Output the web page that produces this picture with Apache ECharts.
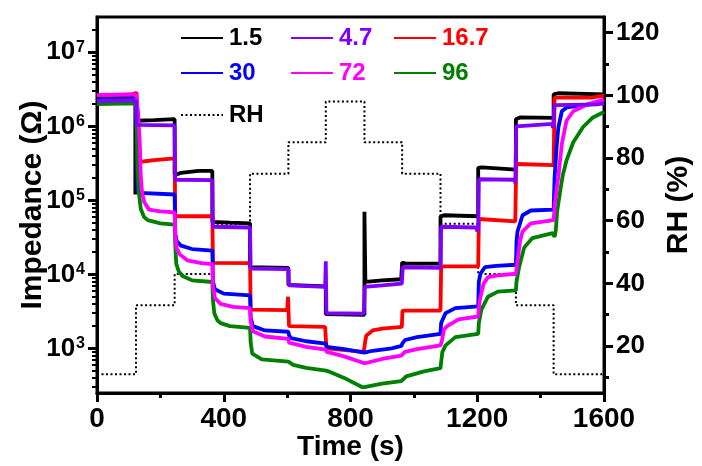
<!DOCTYPE html>
<html><head><meta charset="utf-8">
<script src="https://cdn.jsdelivr.net/npm/echarts@6/dist/echarts.min.js"></script>
<style>html,body{margin:0;padding:0;background:#fff}#c{width:702px;height:466px}</style>
</head><body><div id="c"></div>
<script>
const FONT = "'Liberation Sans', Arial, sans-serif";

// axis ticks / labels
const xTicks = [0, 400, 800, 1200, 1600];
const rhTicks = [20, 40, 60, 80, 100, 120];
const zTicks = [1e3, 1e4, 1e5, 1e6, 1e7];

// series names (frequency) and colours
const seriesNames = ['1.5', '4.7', '16.7', '30', '72', '96'];
const seriesColors = ['#000000', '#8000ff', '#ff0000', '#0000ff', '#ff00ff', '#008000'];

// relative humidity programme (step changes)
const rhTimes = [0, 123, 245, 364, 483, 604, 722, 844, 963, 1084, 1203, 1322, 1441, 1600];
const rhValues = [11, 33, 43, 59, 75, 85, 98, 85, 75, 59, 43, 33, 11, 11];

// impedance traces [time (s), impedance (ohm)]
const z1_5 = [[0,2.4e6],[121,2.45e6],[121,1.2e5],[124,1.2e5],[124,1.19e6],[180,1.21e6],[245,1.25e6],
  [245,2.2e5],[265,2.35e5],[320,2.5e5],[364,2.5e5],
  [364,5.1e4],[420,5.0e4],[483,4.9e4],
  [483,1.25e4],[604,1.22e4],
  [604,7.2e3],[722,6.9e3],
  [722,2.9e3],[844,2.85e3],
  [844,7.0e4],[847,7.9e3],[900,8.3e3],[960,8.6e3],
  [963,1.45e4],[975,1.4e4],[1084,1.4e4],
  [1084,6.0e4],[1095,6.3e4],[1203,6.1e4],
  [1203,2.75e5],[1215,2.8e5],[1322,2.6e5],
  [1322,1.25e6],[1335,1.32e6],[1441,1.3e6],
  [1441,2.7e6],[1455,2.8e6],[1600,2.7e6]];
const z4_7 = [[0,2.2e6],[123,2.25e6],[126,1.05e6],[245,1.03e6],
  [247,1.9e5],[364,1.88e5],
  [366,4.4e4],[483,4.3e4],
  [485,1.2e4],[604,1.18e4],
  [606,7.1e3],[720,6.8e3],[722,1.5e4],[724,3.0e3],[842,2.95e3],
  [845,6.8e3],[900,7.1e3],[962,7.5e3],
  [965,1.25e4],[1084,1.23e4],
  [1086,4.4e4],[1198,4.3e4],[1200,3.8e4],[1203,4.2e4],
  [1205,1.93e5],[1318,1.9e5],[1320,1.7e5],[1323,1.0e6],[1437,1.08e6],[1439,9.5e5],[1441,1.0e6],
  [1444,1.94e6],[1580,1.98e6],[1600,2.05e6]];
const z16_7 = [[0,2.6e6],[110,2.7e6],[125,2.85e6],[130,2.7e6],[133,3.3e5],[180,3.5e5],[245,3.7e5],
  [247,6.1e4],[364,6.1e4],
  [366,1.43e4],[483,1.42e4],
  [485,3.35e3],[600,3.3e3],[603,5.0e3],[606,2.0e3],[720,1.95e3],
  [724,1.0e3],[842,0.9e3],
  [846,1.22e3],[850,1.5e3],[870,1.75e3],[900,1.85e3],[962,1.95e3],
  [964,3.25e3],[1084,3.25e3],
  [1086,1.28e4],[1203,1.28e4],
  [1205,5.6e4],[1320,5.2e4],
  [1323,3.1e5],[1441,3.0e5],
  [1444,2.45e6],[1560,2.45e6],[1600,2.6e6]];
const z30 = [[0,2.3e6],[123,2.35e6],[128,1.3e5],[135,1.26e5],[245,1.2e5],
  [247,3.5e4],[252,2.8e4],[265,2.45e4],[300,2.2e4],[364,2.1e4],
  [366,8e3],[372,6.3e3],[400,5.5e3],[483,5.2e3],
  [485,2.6e3],[492,2.0e3],[530,1.75e3],[604,1.68e3],
  [606,1.5e3],[612,1.38e3],[660,1.25e3],[722,1.16e3],
  [725,1.05e3],[780,0.98e3],[844,0.88e3],
  [870,0.93e3],[930,1.0e3],[961,1.08e3],
  [963,1.15e3],[972,1.3e3],[1010,1.42e3],[1084,1.57e3],
  [1086,2.2e3],[1100,3.0e3],[1131,3.5e3],[1203,3.7e3],
  [1205,8e3],[1210,1.02e4],[1224,1.25e4],[1260,1.3e4],[1322,1.35e4],
  [1324,2.8e4],[1327,3.8e4],[1343,6.3e4],[1369,7.3e4],[1441,7.5e4],
  [1444,2e5],[1450,5e5],[1456,9.7e5],[1467,1.6e6],[1482,1.8e6],[1600,2.1e6]];
const z72 = [[0,2.65e6],[123,2.7e6],[130,1.5e6],[135,6e5],[138,2.2e5],[142,1.3e5],[149,9.5e4],[164,7.5e4],[200,7.1e4],[245,6.9e4],
  [247,3.5e4],[252,2.2e4],[262,1.85e4],[285,1.55e4],[330,1.42e4],[364,1.38e4],
  [366,7e3],[372,4.8e3],[390,4.0e3],[430,3.65e3],[483,3.5e3],
  [485,2.3e3],[492,1.7e3],[530,1.45e3],[604,1.35e3],
  [606,1.2e3],[612,1.15e3],[660,1.05e3],[722,0.96e3],
  [725,0.9e3],[780,0.78e3],[844,0.63e3],
  [850,0.66e3],[900,0.72e3],[960,0.8e3],
  [963,0.83e3],[972,0.9e3],[1010,0.98e3],[1084,1.1e3],
  [1089,1.3e3],[1095,1.8e3],[1105,2.0e3],[1141,2.47e3],[1203,2.7e3],
  [1205,3.5e3],[1208,4.5e3],[1220,7.5e3],[1234,9.2e3],[1265,9.7e3],[1322,1.02e4],
  [1324,1.2e4],[1327,1.53e4],[1335,2.8e4],[1343,3.8e4],[1369,4.9e4],[1441,5.4e4],
  [1446,1.0e5],[1456,2.1e5],[1467,5.8e5],[1482,1.2e6],[1503,1.6e6],[1550,2.0e6],[1600,2.3e6]];
const z96 = [[0,2.0e6],[123,2.05e6],[126,8e5],[128,2.6e5],[132,1.3e5],[138,7.7e4],[148,6e4],[160,5.4e4],[200,4.9e4],[245,4.7e4],
  [247,2.5e4],[250,1.4e4],[258,1.1e4],[270,9.5e3],[300,8.3e3],[364,7.9e3],
  [366,4.5e3],[370,3.0e3],[380,2.4e3],[390,2.2e3],[420,2.0e3],[483,1.9e3],
  [485,1.2e3],[490,850],[520,710],[604,663],
  [606,640],[619,600],[660,545],[722,500],
  [730,490],[780,400],[836,301],[844,300],
  [846,311],[900,335],[960,362],
  [963,385],[976,420],[1032,490],[1084,540],
  [1086,650],[1090,900],[1100,1.1e3],[1131,1.42e3],[1203,1.57e3],
  [1205,2.2e3],[1213,3.35e3],[1234,5.0e3],[1265,5.85e3],[1322,6.1e3],
  [1324,8e3],[1332,1.25e4],[1348,2.3e4],[1374,3.1e4],[1438,3.6e4],[1444,3.2e4],
  [1448,4e4],[1452,7e4],[1461,1.28e5],[1470,2.2e5],[1482,3.5e5],[1503,6.1e5],[1534,9.8e5],[1565,1.32e6],[1600,1.56e6]];

const zData = [z1_5, z4_7, z16_7, z30, z72, z96];
// drawing order (later on top)
const drawOrder = [0, 2, 3, 5, 4, 1];

const rhData = rhTimes.map((t, i) => [t, rhValues[i]]);

const chart = echarts.init(document.getElementById('c'), null, {renderer: 'canvas'});

const lbl = (size) => ({fontFamily: FONT, fontWeight: 'bold', fontSize: size, color: '#000'});

const series = [{
  name: 'RH', type: 'line', yAxisIndex: 1, step: 'end', symbol: 'none', data: rhData,
  lineStyle: {color: '#000', width: 2, type: [2, 2.5]}, itemStyle: {color: '#000'}, z: 1
}];
drawOrder.forEach((k, j) => {
  series.push({
    name: seriesNames[k], type: 'line', yAxisIndex: 0, symbol: 'none', data: zData[k],
    lineStyle: {color: seriesColors[k], width: 3.8}, itemStyle: {color: seriesColors[k]}, z: 2 + j
  });
});

function legendBlock(names, left, top) {
  return {
    orient: 'vertical', left: left, top: top, itemGap: 11, itemWidth: 42, itemHeight: 14,
    padding: 0,
    itemStyle: {color: 'rgba(0,0,0,0)', borderWidth: 0, opacity: 0},
    data: names.map(n => {
      const i = seriesNames.indexOf(n);
      return {name: n, textStyle: {color: i >= 0 ? seriesColors[i] : '#000'}};
    }),
    textStyle: {fontFamily: FONT, fontWeight: 'bold', fontSize: 24, padding: [0, 0, 0, 1]},
    selectedMode: false
  };
}

chart.setOption({
  animation: false,
  backgroundColor: '#fff',
  grid: {left: 97, right: 89, top: 17, bottom: 64, show: true, borderColor: '#000', borderWidth: 3, backgroundColor: 'transparent'},
  legend: [
    legendBlock(['1.5', '30'], 180, 26),
    legendBlock(['4.7', '72'], 290, 26),
    legendBlock(['16.7', '96'], 393, 26),
    legendBlock(['RH'], 180, 103)
  ],
  xAxis: {
    type: 'value', min: 0, max: 1600, interval: 400,
    name: 'Time (s)', nameLocation: 'middle', nameGap: 40, nameTextStyle: lbl(28), nameMoveOverlap: false,
    axisLine: {show: true, lineStyle: {color: '#000', width: 3}},
    axisTick: {show: true, inside: false, length: 9, lineStyle: {color: '#000', width: 3}},
    minorTick: {show: true, splitNumber: 2, length: 5, lineStyle: {color: '#000', width: 3}},
    axisLabel: Object.assign(lbl(28), {margin: 12, customValues: xTicks, formatter: v => String(v)}),
    splitLine: {show: false}
  },
  yAxis: [{
    type: 'log', logBase: 10, min: 250, max: 3e7, position: 'left',
    name: 'Impedance (Ω)', nameLocation: 'middle', nameGap: 49, nameTextStyle: lbl(30), nameMoveOverlap: false,
    axisLine: {show: true, lineStyle: {color: '#000', width: 3}},
    axisTick: {show: true, inside: false, length: 9, lineStyle: {color: '#000', width: 3}, customValues: zTicks},
    minorTick: {show: true, splitNumber: 9, length: 5, lineStyle: {color: '#000', width: 2}},
    axisLabel: {
      margin: 12, customValues: zTicks,
      formatter: function (v) {
        const e = Math.round(Math.log10(v));
        return '{b|10}{s|' + e + '}';
      },
      rich: {
        b: {fontFamily: FONT, fontWeight: 'bold', fontSize: 26, color: '#000'},
        s: {fontFamily: FONT, fontWeight: 'bold', fontSize: 16, color: '#000', verticalAlign: 'top', padding: [0, 0, 10, 1]}
      }
    },
    splitLine: {show: false}
  }, {
    type: 'value', min: 5, max: 125, position: 'right',
    name: 'RH (%)', nameLocation: 'middle', nameGap: 60, nameTextStyle: lbl(30), nameMoveOverlap: false,
    axisLine: {show: true, lineStyle: {color: '#000', width: 3}},
    axisTick: {show: true, inside: false, length: 9, lineStyle: {color: '#000', width: 3}, customValues: rhTicks},
    minorTick: {show: true, splitNumber: 2, length: 5, lineStyle: {color: '#000', width: 3}},
    axisLabel: Object.assign(lbl(26), {margin: 12, customValues: rhTicks}),
    splitLine: {show: false}
  }],
  series: series
});
</script>
</body></html>
